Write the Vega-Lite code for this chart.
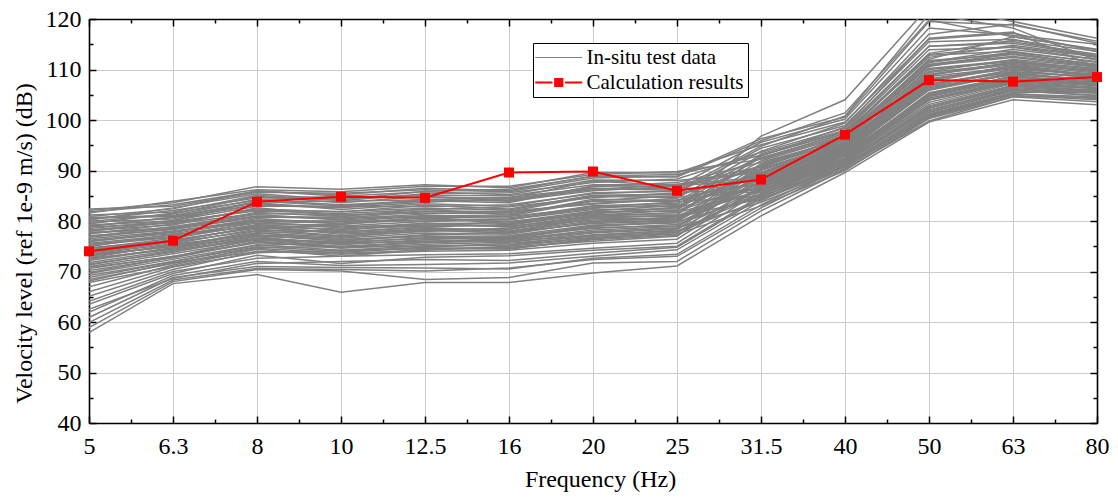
{
"$schema": "https://vega.github.io/schema/vega-lite/v6.json",
"width": 1008, "height": 404,
"autosize": "none",
"padding": {"left": 89, "top": 19, "right": 21, "bottom": 74},
"background": "white",
"config": {"font": "Liberation Serif, Times New Roman, serif", "view": {"stroke": null},
  "axis": {"labelFont": "Liberation Serif, Times New Roman, serif", "titleFont": "Liberation Serif, Times New Roman, serif", "labelFontSize": 24, "titleFontSize": 24, "labelColor": "black", "titleColor": "black", "titleFontWeight": "normal", "domainColor": "black", "domainWidth": 1.6, "tickColor": "black", "tickWidth": 1.5, "gridColor": "#cccccc", "gridWidth": 1}},
"datasets": {
"calc": [
{"f":"5","v":74.0},{"f":"6.3","v":76.1},{"f":"8","v":83.8},{"f":"10","v":84.8},{"f":"12.5","v":84.6},{"f":"16","v":89.6},{"f":"20","v":89.8},{"f":"25","v":86.0},{"f":"31.5","v":88.2},{"f":"40","v":97.1},{"f":"50","v":107.9},{"f":"63","v":107.6},{"f":"80","v":108.5}
],
"test": [
{"s":1,"f":"5","v":82.1},{"s":1,"f":"6.3","v":83.6},{"s":1,"f":"8","v":86.8},{"s":1,"f":"10","v":86.3},{"s":1,"f":"12.5","v":87.2},{"s":1,"f":"16","v":86.6},{"s":1,"f":"20","v":89.6},{"s":1,"f":"25","v":89.5},{"s":1,"f":"31.5","v":95.1},{"s":1,"f":"40","v":99.6},{"s":1,"f":"50","v":116.0},{"s":1,"f":"63","v":117.2},{"s":1,"f":"80","v":113.5},
{"s":2,"f":"5","v":81.6},{"s":2,"f":"6.3","v":83.9},{"s":2,"f":"8","v":86.2},{"s":2,"f":"10","v":85.8},{"s":2,"f":"12.5","v":86.9},{"s":2,"f":"16","v":86.9},{"s":2,"f":"20","v":89.2},{"s":2,"f":"25","v":89.8},{"s":2,"f":"31.5","v":92.2},{"s":2,"f":"40","v":97.0},{"s":2,"f":"50","v":111.5},{"s":2,"f":"63","v":114.0},{"s":2,"f":"80","v":112.0},
{"s":3,"f":"5","v":82.4},{"s":3,"f":"6.3","v":82.9},{"s":3,"f":"8","v":85.7},{"s":3,"f":"10","v":85.5},{"s":3,"f":"12.5","v":86.2},{"s":3,"f":"16","v":85.8},{"s":3,"f":"20","v":88.5},{"s":3,"f":"25","v":88.9},{"s":3,"f":"31.5","v":96.3},{"s":3,"f":"40","v":100.6},{"s":3,"f":"50","v":119.5},{"s":3,"f":"63","v":118.8},{"s":3,"f":"80","v":115.6},
{"s":4,"f":"5","v":80.9},{"s":4,"f":"6.3","v":82.4},{"s":4,"f":"8","v":86.0},{"s":4,"f":"10","v":84.9},{"s":4,"f":"12.5","v":85.8},{"s":4,"f":"16","v":85.2},{"s":4,"f":"20","v":88.1},{"s":4,"f":"25","v":88.0},{"s":4,"f":"31.5","v":89.6},{"s":4,"f":"40","v":95.0},{"s":4,"f":"50","v":108.2},{"s":4,"f":"63","v":110.5},{"s":4,"f":"80","v":108.7},
{"s":5,"f":"5","v":81.2},{"s":5,"f":"6.3","v":81.8},{"s":5,"f":"8","v":85.1},{"s":5,"f":"10","v":84.0},{"s":5,"f":"12.5","v":85.4},{"s":5,"f":"16","v":85.6},{"s":5,"f":"20","v":87.6},{"s":5,"f":"25","v":88.3},{"s":5,"f":"31.5","v":93.6},{"s":5,"f":"40","v":98.4},{"s":5,"f":"50","v":114.6},{"s":5,"f":"63","v":115.5},{"s":5,"f":"80","v":113.0},
{"s":6,"f":"5","v":80.3},{"s":6,"f":"6.3","v":82.1},{"s":6,"f":"8","v":84.6},{"s":6,"f":"10","v":84.8},{"s":6,"f":"12.5","v":84.7},{"s":6,"f":"16","v":84.5},{"s":6,"f":"20","v":87.9},{"s":6,"f":"25","v":87.0},{"s":6,"f":"31.5","v":88.2},{"s":6,"f":"40","v":93.9},{"s":6,"f":"50","v":106.1},{"s":6,"f":"63","v":109.2},{"s":6,"f":"80","v":107.8},
{"s":7,"f":"5","v":79.9},{"s":7,"f":"6.3","v":81.4},{"s":7,"f":"8","v":84.9},{"s":7,"f":"10","v":83.6},{"s":7,"f":"12.5","v":84.9},{"s":7,"f":"16","v":84.0},{"s":7,"f":"20","v":86.8},{"s":7,"f":"25","v":87.6},{"s":7,"f":"31.5","v":91.6},{"s":7,"f":"40","v":96.2},{"s":7,"f":"50","v":110.8},{"s":7,"f":"63","v":112.4},{"s":7,"f":"80","v":110.6},
{"s":8,"f":"5","v":80.6},{"s":8,"f":"6.3","v":80.9},{"s":8,"f":"8","v":83.8},{"s":8,"f":"10","v":83.9},{"s":8,"f":"12.5","v":84.2},{"s":8,"f":"16","v":84.7},{"s":8,"f":"20","v":86.5},{"s":8,"f":"25","v":86.4},{"s":8,"f":"31.5","v":87.0},{"s":8,"f":"40","v":92.8},{"s":8,"f":"50","v":104.0},{"s":8,"f":"63","v":107.9},{"s":8,"f":"80","v":106.9},
{"s":9,"f":"5","v":79.4},{"s":9,"f":"6.3","v":81.6},{"s":9,"f":"8","v":84.1},{"s":9,"f":"10","v":83.2},{"s":9,"f":"12.5","v":84.0},{"s":9,"f":"16","v":83.6},{"s":9,"f":"20","v":87.0},{"s":9,"f":"25","v":86.8},{"s":9,"f":"31.5","v":95.6},{"s":9,"f":"40","v":100.2},{"s":9,"f":"50","v":118.2},{"s":9,"f":"63","v":116.8},{"s":9,"f":"80","v":115.0},
{"s":10,"f":"5","v":79.8},{"s":10,"f":"6.3","v":80.4},{"s":10,"f":"8","v":83.3},{"s":10,"f":"10","v":82.7},{"s":10,"f":"12.5","v":84.3},{"s":10,"f":"16","v":83.9},{"s":10,"f":"20","v":86.0},{"s":10,"f":"25","v":86.9},{"s":10,"f":"31.5","v":90.2},{"s":10,"f":"40","v":95.5},{"s":10,"f":"50","v":109.0},{"s":10,"f":"63","v":111.0},{"s":10,"f":"80","v":109.8},
{"s":11,"f":"5","v":78.9},{"s":11,"f":"6.3","v":80.8},{"s":11,"f":"8","v":83.6},{"s":11,"f":"10","v":82.3},{"s":11,"f":"12.5","v":83.4},{"s":11,"f":"16","v":82.9},{"s":11,"f":"20","v":85.6},{"s":11,"f":"25","v":85.9},{"s":11,"f":"31.5","v":85.6},{"s":11,"f":"40","v":91.7},{"s":11,"f":"50","v":102.3},{"s":11,"f":"63","v":106.4},{"s":11,"f":"80","v":105.6},
{"s":12,"f":"5","v":78.5},{"s":12,"f":"6.3","v":80.1},{"s":12,"f":"8","v":82.9},{"s":12,"f":"10","v":82.9},{"s":12,"f":"12.5","v":82.8},{"s":12,"f":"16","v":83.2},{"s":12,"f":"20","v":85.4},{"s":12,"f":"25","v":86.0},{"s":12,"f":"31.5","v":92.4},{"s":12,"f":"40","v":97.3},{"s":12,"f":"50","v":112.8},{"s":12,"f":"63","v":113.6},{"s":12,"f":"80","v":111.4},
{"s":13,"f":"5","v":78.8},{"s":13,"f":"6.3","v":79.6},{"s":13,"f":"8","v":82.4},{"s":13,"f":"10","v":81.8},{"s":13,"f":"12.5","v":83.1},{"s":13,"f":"16","v":82.4},{"s":13,"f":"20","v":85.1},{"s":13,"f":"25","v":85.3},{"s":13,"f":"31.5","v":89.0},{"s":13,"f":"40","v":94.4},{"s":13,"f":"50","v":107.0},{"s":13,"f":"63","v":109.9},{"s":13,"f":"80","v":108.2},
{"s":14,"f":"5","v":77.9},{"s":14,"f":"6.3","v":79.9},{"s":14,"f":"8","v":82.0},{"s":14,"f":"10","v":81.5},{"s":14,"f":"12.5","v":82.3},{"s":14,"f":"16","v":82.8},{"s":14,"f":"20","v":84.6},{"s":14,"f":"25","v":85.6},{"s":14,"f":"31.5","v":94.4},{"s":14,"f":"40","v":98.9},{"s":14,"f":"50","v":115.5},{"s":14,"f":"63","v":116.0},{"s":14,"f":"80","v":112.3},
{"s":15,"f":"5","v":78.1},{"s":15,"f":"6.3","v":79.2},{"s":15,"f":"8","v":82.6},{"s":15,"f":"10","v":81.0},{"s":15,"f":"12.5","v":82.0},{"s":15,"f":"16","v":81.9},{"s":15,"f":"20","v":84.9},{"s":15,"f":"25","v":84.6},{"s":15,"f":"31.5","v":87.5},{"s":15,"f":"40","v":93.2},{"s":15,"f":"50","v":105.2},{"s":15,"f":"63","v":108.5},{"s":15,"f":"80","v":107.3},
{"s":16,"f":"5","v":77.4},{"s":16,"f":"6.3","v":79.4},{"s":16,"f":"8","v":81.5},{"s":16,"f":"10","v":81.3},{"s":16,"f":"12.5","v":81.6},{"s":16,"f":"16","v":81.4},{"s":16,"f":"20","v":84.0},{"s":16,"f":"25","v":85.0},{"s":16,"f":"31.5","v":90.8},{"s":16,"f":"40","v":95.9},{"s":16,"f":"50","v":110.0},{"s":16,"f":"63","v":111.6},{"s":16,"f":"80","v":110.2},
{"s":17,"f":"5","v":77.7},{"s":17,"f":"6.3","v":78.7},{"s":17,"f":"8","v":81.0},{"s":17,"f":"10","v":80.6},{"s":17,"f":"12.5","v":81.9},{"s":17,"f":"16","v":81.7},{"s":17,"f":"20","v":83.5},{"s":17,"f":"25","v":84.2},{"s":17,"f":"31.5","v":86.3},{"s":17,"f":"40","v":92.2},{"s":17,"f":"50","v":103.1},{"s":17,"f":"63","v":107.2},{"s":17,"f":"80","v":106.2},
{"s":18,"f":"5","v":76.9},{"s":18,"f":"6.3","v":78.9},{"s":18,"f":"8","v":81.3},{"s":18,"f":"10","v":80.2},{"s":18,"f":"12.5","v":81.1},{"s":18,"f":"16","v":81.0},{"s":18,"f":"20","v":83.9},{"s":18,"f":"25","v":83.9},{"s":18,"f":"31.5","v":93.0},{"s":18,"f":"40","v":97.8},{"s":18,"f":"50","v":113.9},{"s":18,"f":"63","v":114.4},{"s":18,"f":"80","v":112.0},
{"s":19,"f":"5","v":77.1},{"s":19,"f":"6.3","v":78.3},{"s":19,"f":"8","v":80.7},{"s":19,"f":"10","v":80.8},{"s":19,"f":"12.5","v":80.7},{"s":19,"f":"16","v":80.6},{"s":19,"f":"20","v":83.0},{"s":19,"f":"25","v":83.5},{"s":19,"f":"31.5","v":89.4},{"s":19,"f":"40","v":94.8},{"s":19,"f":"50","v":108.0},{"s":19,"f":"63","v":110.2},{"s":19,"f":"80","v":109.1},
{"s":20,"f":"5","v":76.5},{"s":20,"f":"6.3","v":78.0},{"s":20,"f":"8","v":80.2},{"s":20,"f":"10","v":79.9},{"s":20,"f":"12.5","v":81.0},{"s":20,"f":"16","v":80.9},{"s":20,"f":"20","v":82.6},{"s":20,"f":"25","v":83.8},{"s":20,"f":"31.5","v":84.9},{"s":20,"f":"40","v":91.2},{"s":20,"f":"50","v":101.2},{"s":20,"f":"63","v":105.5},{"s":20,"f":"80","v":105.4},
{"s":21,"f":"5","v":76.2},{"s":21,"f":"6.3","v":77.7},{"s":21,"f":"8","v":80.5},{"s":21,"f":"10","v":79.4},{"s":21,"f":"12.5","v":80.3},{"s":21,"f":"16","v":80.2},{"s":21,"f":"20","v":82.9},{"s":21,"f":"25","v":82.8},{"s":21,"f":"31.5","v":91.9},{"s":21,"f":"40","v":96.8},{"s":21,"f":"50","v":111.8},{"s":21,"f":"63","v":113.0},{"s":21,"f":"80","v":111.0},
{"s":22,"f":"5","v":75.9},{"s":22,"f":"6.3","v":77.9},{"s":22,"f":"8","v":79.9},{"s":22,"f":"10","v":79.6},{"s":22,"f":"12.5","v":80.6},{"s":22,"f":"16","v":79.8},{"s":22,"f":"20","v":82.0},{"s":22,"f":"25","v":83.1},{"s":22,"f":"31.5","v":88.1},{"s":22,"f":"40","v":93.7},{"s":22,"f":"50","v":106.6},{"s":22,"f":"63","v":109.0},{"s":22,"f":"80","v":108.0},
{"s":23,"f":"5","v":75.6},{"s":23,"f":"6.3","v":77.2},{"s":23,"f":"8","v":79.6},{"s":23,"f":"10","v":79.0},{"s":23,"f":"12.5","v":79.9},{"s":23,"f":"16","v":80.3},{"s":23,"f":"20","v":82.3},{"s":23,"f":"25","v":82.4},{"s":23,"f":"31.5","v":96.8},{"s":23,"f":"40","v":104.0},{"s":23,"f":"50","v":122.5},{"s":23,"f":"63","v":119.5},{"s":23,"f":"80","v":116.2},
{"s":24,"f":"5","v":75.2},{"s":24,"f":"6.3","v":76.8},{"s":24,"f":"8","v":79.9},{"s":24,"f":"10","v":78.6},{"s":24,"f":"12.5","v":79.5},{"s":24,"f":"16","v":79.6},{"s":24,"f":"20","v":81.6},{"s":24,"f":"25","v":82.6},{"s":24,"f":"31.5","v":86.8},{"s":24,"f":"40","v":92.5},{"s":24,"f":"50","v":104.6},{"s":24,"f":"63","v":108.0},{"s":24,"f":"80","v":106.8},
{"s":25,"f":"5","v":74.9},{"s":25,"f":"6.3","v":77.4},{"s":25,"f":"8","v":78.9},{"s":25,"f":"10","v":78.9},{"s":25,"f":"12.5","v":79.2},{"s":25,"f":"16","v":79.1},{"s":25,"f":"20","v":81.9},{"s":25,"f":"25","v":81.9},{"s":25,"f":"31.5","v":90.0},{"s":25,"f":"40","v":95.3},{"s":25,"f":"50","v":109.4},{"s":25,"f":"63","v":111.2},{"s":25,"f":"80","v":109.5},
{"s":26,"f":"5","v":74.5},{"s":26,"f":"6.3","v":76.6},{"s":26,"f":"8","v":79.3},{"s":26,"f":"10","v":78.1},{"s":26,"f":"12.5","v":79.6},{"s":26,"f":"16","v":78.8},{"s":26,"f":"20","v":80.9},{"s":26,"f":"25","v":81.7},{"s":26,"f":"31.5","v":85.9},{"s":26,"f":"40","v":91.9},{"s":26,"f":"50","v":102.6},{"s":26,"f":"63","v":106.8},{"s":26,"f":"80","v":105.9},
{"s":27,"f":"5","v":74.3},{"s":27,"f":"6.3","v":76.3},{"s":27,"f":"8","v":78.6},{"s":27,"f":"10","v":77.8},{"s":27,"f":"12.5","v":78.8},{"s":27,"f":"16","v":79.3},{"s":27,"f":"20","v":81.3},{"s":27,"f":"25","v":81.4},{"s":27,"f":"31.5","v":91.3},{"s":27,"f":"40","v":96.4},{"s":27,"f":"50","v":111.0},{"s":27,"f":"63","v":112.6},{"s":27,"f":"80","v":110.8},
{"s":28,"f":"5","v":74.0},{"s":28,"f":"6.3","v":76.0},{"s":28,"f":"8","v":78.9},{"s":28,"f":"10","v":77.6},{"s":28,"f":"12.5","v":78.4},{"s":28,"f":"16","v":78.4},{"s":28,"f":"20","v":81.0},{"s":28,"f":"25","v":81.0},{"s":28,"f":"31.5","v":87.6},{"s":28,"f":"40","v":93.0},{"s":28,"f":"50","v":105.4},{"s":28,"f":"63","v":108.6},{"s":28,"f":"80","v":107.5},
{"s":29,"f":"5","v":73.6},{"s":29,"f":"6.3","v":75.8},{"s":29,"f":"8","v":78.1},{"s":29,"f":"10","v":77.9},{"s":29,"f":"12.5","v":78.7},{"s":29,"f":"16","v":78.0},{"s":29,"f":"20","v":80.5},{"s":29,"f":"25","v":81.2},{"s":29,"f":"31.5","v":93.3},{"s":29,"f":"40","v":98.0},{"s":29,"f":"50","v":114.6},{"s":29,"f":"63","v":115.2},{"s":29,"f":"80","v":112.8},
{"s":30,"f":"5","v":73.4},{"s":30,"f":"6.3","v":75.5},{"s":30,"f":"8","v":78.4},{"s":30,"f":"10","v":77.1},{"s":30,"f":"12.5","v":77.9},{"s":30,"f":"16","v":78.6},{"s":30,"f":"20","v":80.2},{"s":30,"f":"25","v":80.6},{"s":30,"f":"31.5","v":86.2},{"s":30,"f":"40","v":92.1},{"s":30,"f":"50","v":103.5},{"s":30,"f":"63","v":107.4},{"s":30,"f":"80","v":106.4},
{"s":31,"f":"5","v":73.0},{"s":31,"f":"6.3","v":75.1},{"s":31,"f":"8","v":77.6},{"s":31,"f":"10","v":76.8},{"s":31,"f":"12.5","v":78.1},{"s":31,"f":"16","v":77.7},{"s":31,"f":"20","v":80.6},{"s":31,"f":"25","v":80.3},{"s":31,"f":"31.5","v":88.6},{"s":31,"f":"40","v":94.1},{"s":31,"f":"50","v":107.2},{"s":31,"f":"63","v":109.5},{"s":31,"f":"80","v":108.4},
{"s":32,"f":"5","v":72.7},{"s":32,"f":"6.3","v":75.4},{"s":32,"f":"8","v":77.3},{"s":32,"f":"10","v":76.6},{"s":32,"f":"12.5","v":77.6},{"s":32,"f":"16","v":77.4},{"s":32,"f":"20","v":79.8},{"s":32,"f":"25","v":80.8},{"s":32,"f":"31.5","v":84.4},{"s":32,"f":"40","v":90.9},{"s":32,"f":"50","v":100.8},{"s":32,"f":"63","v":105.2},{"s":32,"f":"80","v":104.2},
{"s":33,"f":"5","v":72.4},{"s":33,"f":"6.3","v":74.7},{"s":33,"f":"8","v":77.7},{"s":33,"f":"10","v":76.2},{"s":33,"f":"12.5","v":77.3},{"s":33,"f":"16","v":77.8},{"s":33,"f":"20","v":79.5},{"s":33,"f":"25","v":80.0},{"s":33,"f":"31.5","v":90.4},{"s":33,"f":"40","v":95.6},{"s":33,"f":"50","v":110.2},{"s":33,"f":"63","v":111.8},{"s":33,"f":"80","v":109.9},
{"s":34,"f":"5","v":72.6},{"s":34,"f":"6.3","v":74.4},{"s":34,"f":"8","v":77.0},{"s":34,"f":"10","v":76.4},{"s":34,"f":"12.5","v":76.9},{"s":34,"f":"16","v":77.1},{"s":34,"f":"20","v":79.2},{"s":34,"f":"25","v":79.6},{"s":34,"f":"31.5","v":87.2},{"s":34,"f":"40","v":92.9},{"s":34,"f":"50","v":104.3},{"s":34,"f":"63","v":107.7},{"s":34,"f":"80","v":106.9},
{"s":35,"f":"5","v":71.8},{"s":35,"f":"6.3","v":74.2},{"s":35,"f":"8","v":76.6},{"s":35,"f":"10","v":75.7},{"s":35,"f":"12.5","v":76.7},{"s":35,"f":"16","v":76.8},{"s":35,"f":"20","v":79.0},{"s":35,"f":"25","v":79.9},{"s":35,"f":"31.5","v":89.2},{"s":35,"f":"40","v":94.6},{"s":35,"f":"50","v":108.6},{"s":35,"f":"63","v":110.4},{"s":35,"f":"80","v":108.8},
{"s":36,"f":"5","v":71.5},{"s":36,"f":"6.3","v":73.8},{"s":36,"f":"8","v":76.9},{"s":36,"f":"10","v":75.3},{"s":36,"f":"12.5","v":76.3},{"s":36,"f":"16","v":77.0},{"s":36,"f":"20","v":78.5},{"s":36,"f":"25","v":79.3},{"s":36,"f":"31.5","v":85.4},{"s":36,"f":"40","v":91.4},{"s":36,"f":"50","v":101.9},{"s":36,"f":"63","v":106.2},{"s":36,"f":"80","v":105.3},
{"s":37,"f":"5","v":71.0},{"s":37,"f":"6.3","v":73.5},{"s":37,"f":"8","v":76.2},{"s":37,"f":"10","v":75.6},{"s":37,"f":"12.5","v":76.0},{"s":37,"f":"16","v":76.5},{"s":37,"f":"20","v":78.7},{"s":37,"f":"25","v":79.0},{"s":37,"f":"31.5","v":87.9},{"s":37,"f":"40","v":93.5},{"s":37,"f":"50","v":106.0},{"s":37,"f":"63","v":109.4},{"s":37,"f":"80","v":107.6},
{"s":38,"f":"5","v":70.6},{"s":38,"f":"6.3","v":73.0},{"s":38,"f":"8","v":75.7},{"s":38,"f":"10","v":74.9},{"s":38,"f":"12.5","v":75.7},{"s":38,"f":"16","v":76.1},{"s":38,"f":"20","v":77.9},{"s":38,"f":"25","v":78.6},{"s":38,"f":"31.5","v":83.7},{"s":38,"f":"40","v":90.3},{"s":38,"f":"50","v":99.8},{"s":38,"f":"63","v":104.6},{"s":38,"f":"80","v":103.6},
{"s":39,"f":"5","v":70.2},{"s":39,"f":"6.3","v":72.7},{"s":39,"f":"8","v":75.9},{"s":39,"f":"10","v":74.6},{"s":39,"f":"12.5","v":75.4},{"s":39,"f":"16","v":75.8},{"s":39,"f":"20","v":77.6},{"s":39,"f":"25","v":78.4},{"s":39,"f":"31.5","v":86.6},{"s":39,"f":"40","v":92.3},{"s":39,"f":"50","v":103.9},{"s":39,"f":"63","v":107.6},{"s":39,"f":"80","v":106.5},
{"s":40,"f":"5","v":69.6},{"s":40,"f":"6.3","v":72.4},{"s":40,"f":"8","v":75.3},{"s":40,"f":"10","v":74.2},{"s":40,"f":"12.5","v":75.1},{"s":40,"f":"16","v":75.3},{"s":40,"f":"20","v":77.3},{"s":40,"f":"25","v":78.0},{"s":40,"f":"31.5","v":85.3},{"s":40,"f":"40","v":91.5},{"s":40,"f":"50","v":102.4},{"s":40,"f":"63","v":106.6},{"s":40,"f":"80","v":105.8},
{"s":41,"f":"5","v":57.9},{"s":41,"f":"6.3","v":67.6},{"s":41,"f":"8","v":69.4},{"s":41,"f":"10","v":65.9},{"s":41,"f":"12.5","v":67.8},{"s":41,"f":"16","v":67.8},{"s":41,"f":"20","v":69.7},{"s":41,"f":"25","v":71.1},{"s":41,"f":"31.5","v":81.0},{"s":41,"f":"40","v":89.6},{"s":41,"f":"50","v":99.6},{"s":41,"f":"63","v":104.0},{"s":41,"f":"80","v":103.0},
{"s":42,"f":"5","v":58.9},{"s":42,"f":"6.3","v":68.0},{"s":42,"f":"8","v":70.4},{"s":42,"f":"10","v":70.1},{"s":42,"f":"12.5","v":68.4},{"s":42,"f":"16","v":68.8},{"s":42,"f":"20","v":71.7},{"s":42,"f":"25","v":72.0},{"s":42,"f":"31.5","v":82.0},{"s":42,"f":"40","v":90.2},{"s":42,"f":"50","v":100.3},{"s":42,"f":"63","v":104.6},{"s":42,"f":"80","v":104.5},
{"s":43,"f":"5","v":59.9},{"s":43,"f":"6.3","v":68.3},{"s":43,"f":"8","v":70.6},{"s":43,"f":"10","v":70.4},{"s":43,"f":"12.5","v":70.1},{"s":43,"f":"16","v":70.7},{"s":43,"f":"20","v":72.4},{"s":43,"f":"25","v":73.0},{"s":43,"f":"31.5","v":82.6},{"s":43,"f":"40","v":90.8},{"s":43,"f":"50","v":101.0},{"s":43,"f":"63","v":105.3},{"s":43,"f":"80","v":106.0},
{"s":44,"f":"5","v":60.9},{"s":44,"f":"6.3","v":68.8},{"s":44,"f":"8","v":71.0},{"s":44,"f":"10","v":70.8},{"s":44,"f":"12.5","v":70.7},{"s":44,"f":"16","v":70.5},{"s":44,"f":"20","v":72.6},{"s":44,"f":"25","v":73.4},{"s":44,"f":"31.5","v":83.2},{"s":44,"f":"40","v":91.0},{"s":44,"f":"50","v":101.6},{"s":44,"f":"63","v":105.9},{"s":44,"f":"80","v":104.8},
{"s":45,"f":"5","v":61.9},{"s":45,"f":"6.3","v":69.2},{"s":45,"f":"8","v":72.0},{"s":45,"f":"10","v":71.2},{"s":45,"f":"12.5","v":71.4},{"s":45,"f":"16","v":71.7},{"s":45,"f":"20","v":73.0},{"s":45,"f":"25","v":74.3},{"s":45,"f":"31.5","v":84.0},{"s":45,"f":"40","v":91.8},{"s":45,"f":"50","v":102.8},{"s":45,"f":"63","v":106.9},{"s":45,"f":"80","v":106.3},
{"s":46,"f":"5","v":62.5},{"s":46,"f":"6.3","v":68.6},{"s":46,"f":"8","v":71.6},{"s":46,"f":"10","v":72.0},{"s":46,"f":"12.5","v":72.4},{"s":46,"f":"16","v":72.2},{"s":46,"f":"20","v":73.6},{"s":46,"f":"25","v":74.8},{"s":46,"f":"31.5","v":84.6},{"s":46,"f":"40","v":92.4},{"s":46,"f":"50","v":104.0},{"s":46,"f":"63","v":107.3},{"s":46,"f":"80","v":105.4},
{"s":47,"f":"5","v":63.5},{"s":47,"f":"6.3","v":69.6},{"s":47,"f":"8","v":73.2},{"s":47,"f":"10","v":71.6},{"s":47,"f":"12.5","v":72.8},{"s":47,"f":"16","v":73.1},{"s":47,"f":"20","v":74.2},{"s":47,"f":"25","v":75.0},{"s":47,"f":"31.5","v":85.0},{"s":47,"f":"40","v":93.0},{"s":47,"f":"50","v":105.0},{"s":47,"f":"63","v":108.2},{"s":47,"f":"80","v":107.0},
{"s":48,"f":"5","v":64.1},{"s":48,"f":"6.3","v":70.0},{"s":48,"f":"8","v":72.6},{"s":48,"f":"10","v":73.0},{"s":48,"f":"12.5","v":73.3},{"s":48,"f":"16","v":73.5},{"s":48,"f":"20","v":74.6},{"s":48,"f":"25","v":75.6},{"s":48,"f":"31.5","v":86.0},{"s":48,"f":"40","v":93.7},{"s":48,"f":"50","v":106.4},{"s":48,"f":"63","v":109.0},{"s":48,"f":"80","v":107.8},
{"s":49,"f":"5","v":65.1},{"s":49,"f":"6.3","v":70.4},{"s":49,"f":"8","v":74.0},{"s":49,"f":"10","v":73.4},{"s":49,"f":"12.5","v":74.0},{"s":49,"f":"16","v":74.2},{"s":49,"f":"20","v":75.6},{"s":49,"f":"25","v":76.4},{"s":49,"f":"31.5","v":87.0},{"s":49,"f":"40","v":94.2},{"s":49,"f":"50","v":107.5},{"s":49,"f":"63","v":110.6},{"s":49,"f":"80","v":108.5},
{"s":50,"f":"5","v":66.0},{"s":50,"f":"6.3","v":70.9},{"s":50,"f":"8","v":73.7},{"s":50,"f":"10","v":74.2},{"s":50,"f":"12.5","v":74.5},{"s":50,"f":"16","v":74.8},{"s":50,"f":"20","v":76.0},{"s":50,"f":"25","v":77.0},{"s":50,"f":"31.5","v":88.0},{"s":50,"f":"40","v":95.0},{"s":50,"f":"50","v":109.0},{"s":50,"f":"63","v":111.4},{"s":50,"f":"80","v":110.2},
{"s":51,"f":"5","v":67.0},{"s":51,"f":"6.3","v":71.3},{"s":51,"f":"8","v":74.8},{"s":51,"f":"10","v":74.9},{"s":51,"f":"12.5","v":75.0},{"s":51,"f":"16","v":75.2},{"s":51,"f":"20","v":76.8},{"s":51,"f":"25","v":77.5},{"s":51,"f":"31.5","v":89.5},{"s":51,"f":"40","v":96.0},{"s":51,"f":"50","v":111.0},{"s":51,"f":"63","v":113.0},{"s":51,"f":"80","v":111.0},
{"s":52,"f":"5","v":67.8},{"s":52,"f":"6.3","v":71.0},{"s":52,"f":"8","v":74.4},{"s":52,"f":"10","v":73.0},{"s":52,"f":"12.5","v":74.4},{"s":52,"f":"16","v":74.6},{"s":52,"f":"20","v":76.3},{"s":52,"f":"25","v":77.2},{"s":52,"f":"31.5","v":86.5},{"s":52,"f":"40","v":94.0},{"s":52,"f":"50","v":106.8},{"s":52,"f":"63","v":110.0},{"s":52,"f":"80","v":109.0},
{"s":53,"f":"5","v":68.8},{"s":53,"f":"6.3","v":72.0},{"s":53,"f":"8","v":75.2},{"s":53,"f":"10","v":75.6},{"s":53,"f":"12.5","v":76.0},{"s":53,"f":"16","v":76.0},{"s":53,"f":"20","v":77.2},{"s":53,"f":"25","v":78.2},{"s":53,"f":"31.5","v":90.5},{"s":53,"f":"40","v":97.0},{"s":53,"f":"50","v":113.0},{"s":53,"f":"63","v":114.5},{"s":53,"f":"80","v":112.5},
{"s":54,"f":"5","v":69.8},{"s":54,"f":"6.3","v":72.8},{"s":54,"f":"8","v":76.0},{"s":54,"f":"10","v":75.0},{"s":54,"f":"12.5","v":75.8},{"s":54,"f":"16","v":76.4},{"s":54,"f":"20","v":77.8},{"s":54,"f":"25","v":78.6},{"s":54,"f":"31.5","v":91.0},{"s":54,"f":"40","v":96.6},{"s":54,"f":"50","v":112.0},{"s":54,"f":"63","v":116.5},{"s":54,"f":"80","v":114.0},
{"s":55,"f":"5","v":79.0},{"s":55,"f":"6.3","v":80.7},{"s":55,"f":"8","v":83.1},{"s":55,"f":"10","v":82.6},{"s":55,"f":"12.5","v":83.7},{"s":55,"f":"16","v":84.4},{"s":55,"f":"20","v":86.4},{"s":55,"f":"25","v":86.1},{"s":55,"f":"31.5","v":94.8},{"s":55,"f":"40","v":100.8},{"s":55,"f":"50","v":121.0},{"s":55,"f":"63","v":118.2},{"s":55,"f":"80","v":111.8},
{"s":56,"f":"5","v":76.8},{"s":56,"f":"6.3","v":78.4},{"s":56,"f":"8","v":80.9},{"s":56,"f":"10","v":80.4},{"s":56,"f":"12.5","v":81.4},{"s":56,"f":"16","v":82.0},{"s":56,"f":"20","v":83.3},{"s":56,"f":"25","v":84.5},{"s":56,"f":"31.5","v":93.8},{"s":56,"f":"40","v":99.4},{"s":56,"f":"50","v":117.0},{"s":56,"f":"63","v":119.0},{"s":56,"f":"80","v":115.2},
{"s":57,"f":"5","v":73.2},{"s":57,"f":"6.3","v":75.0},{"s":57,"f":"8","v":77.5},{"s":57,"f":"10","v":78.3},{"s":57,"f":"12.5","v":79.2},{"s":57,"f":"16","v":78.9},{"s":57,"f":"20","v":81.1},{"s":57,"f":"25","v":82.2},{"s":57,"f":"31.5","v":92.8},{"s":57,"f":"40","v":98.6},{"s":57,"f":"50","v":116.2},{"s":57,"f":"63","v":117.4},{"s":57,"f":"80","v":110.4},
{"s":58,"f":"5","v":80.2},{"s":58,"f":"6.3","v":82.6},{"s":58,"f":"8","v":85.4},{"s":58,"f":"10","v":84.2},{"s":58,"f":"12.5","v":85.9},{"s":58,"f":"16","v":86.3},{"s":58,"f":"20","v":88.8},{"s":58,"f":"25","v":88.7},{"s":58,"f":"31.5","v":95.9},{"s":58,"f":"40","v":101.4},{"s":58,"f":"50","v":119.8},{"s":58,"f":"63","v":116.5},{"s":58,"f":"80","v":113.9},
{"s":59,"f":"5","v":81.8},{"s":59,"f":"6.3","v":83.2},{"s":59,"f":"8","v":85.9},{"s":59,"f":"10","v":85.2},{"s":59,"f":"12.5","v":86.5},{"s":59,"f":"16","v":86.0},{"s":59,"f":"20","v":88.9},{"s":59,"f":"25","v":89.2},{"s":59,"f":"31.5","v":93.0},{"s":59,"f":"40","v":97.6},{"s":59,"f":"50","v":112.4},{"s":59,"f":"63","v":114.8},{"s":59,"f":"80","v":112.6},
{"s":60,"f":"5","v":80.7},{"s":60,"f":"6.3","v":81.1},{"s":60,"f":"8","v":84.3},{"s":60,"f":"10","v":84.5},{"s":60,"f":"12.5","v":85.1},{"s":60,"f":"16","v":85.0},{"s":60,"f":"20","v":87.2},{"s":60,"f":"25","v":87.2},{"s":60,"f":"31.5","v":90.8},{"s":60,"f":"40","v":96.0},{"s":60,"f":"50","v":109.6},{"s":60,"f":"63","v":112.0},{"s":60,"f":"80","v":110.5},
{"s":61,"f":"5","v":79.2},{"s":61,"f":"6.3","v":80.0},{"s":61,"f":"8","v":83.9},{"s":61,"f":"10","v":83.0},{"s":61,"f":"12.5","v":83.9},{"s":61,"f":"16","v":84.2},{"s":61,"f":"20","v":86.2},{"s":61,"f":"25","v":87.3},{"s":61,"f":"31.5","v":88.6},{"s":61,"f":"40","v":94.2},{"s":61,"f":"50","v":106.8},{"s":61,"f":"63","v":109.6},{"s":61,"f":"80","v":108.6},
{"s":62,"f":"5","v":78.2},{"s":62,"f":"6.3","v":79.7},{"s":62,"f":"8","v":82.2},{"s":62,"f":"10","v":81.9},{"s":62,"f":"12.5","v":82.5},{"s":62,"f":"16","v":82.2},{"s":62,"f":"20","v":85.0},{"s":62,"f":"25","v":84.9},{"s":62,"f":"31.5","v":91.0},{"s":62,"f":"40","v":96.6},{"s":62,"f":"50","v":111.4},{"s":62,"f":"63","v":113.4},{"s":62,"f":"80","v":111.6},
{"s":63,"f":"5","v":77.6},{"s":63,"f":"6.3","v":78.5},{"s":63,"f":"8","v":81.7},{"s":63,"f":"10","v":80.9},{"s":63,"f":"12.5","v":82.4},{"s":63,"f":"16","v":81.2},{"s":63,"f":"20","v":84.3},{"s":63,"f":"25","v":84.0},{"s":63,"f":"31.5","v":88.8},{"s":63,"f":"40","v":94.0},{"s":63,"f":"50","v":107.8},{"s":63,"f":"63","v":110.8},{"s":63,"f":"80","v":109.3},
{"s":64,"f":"5","v":76.0},{"s":64,"f":"6.3","v":77.5},{"s":64,"f":"8","v":80.0},{"s":64,"f":"10","v":80.0},{"s":64,"f":"12.5","v":80.0},{"s":64,"f":"16","v":80.4},{"s":64,"f":"20","v":82.5},{"s":64,"f":"25","v":83.3},{"s":64,"f":"31.5","v":92.5},{"s":64,"f":"40","v":97.4},{"s":64,"f":"50","v":113.2},{"s":64,"f":"63","v":115.8},{"s":64,"f":"80","v":113.6},
{"s":65,"f":"5","v":75.4},{"s":65,"f":"6.3","v":76.9},{"s":65,"f":"8","v":79.2},{"s":65,"f":"10","v":79.3},{"s":65,"f":"12.5","v":80.8},{"s":65,"f":"16","v":79.4},{"s":65,"f":"20","v":81.8},{"s":65,"f":"25","v":82.0},{"s":65,"f":"31.5","v":87.3},{"s":65,"f":"40","v":93.4},{"s":65,"f":"50","v":104.9},{"s":65,"f":"63","v":108.2},{"s":65,"f":"80","v":107.1},
{"s":66,"f":"5","v":74.7},{"s":66,"f":"6.3","v":76.1},{"s":66,"f":"8","v":78.8},{"s":66,"f":"10","v":78.4},{"s":66,"f":"12.5","v":79.0},{"s":66,"f":"16","v":79.9},{"s":66,"f":"20","v":81.4},{"s":66,"f":"25","v":82.7},{"s":66,"f":"31.5","v":89.6},{"s":66,"f":"40","v":95.1},{"s":66,"f":"50","v":108.8},{"s":66,"f":"63","v":111.5},{"s":66,"f":"80","v":109.6},
{"s":67,"f":"5","v":73.8},{"s":67,"f":"6.3","v":75.9},{"s":67,"f":"8","v":79.0},{"s":67,"f":"10","v":77.4},{"s":67,"f":"12.5","v":78.2},{"s":67,"f":"16","v":78.3},{"s":67,"f":"20","v":80.8},{"s":67,"f":"25","v":80.9},{"s":67,"f":"31.5","v":86.0},{"s":67,"f":"40","v":91.6},{"s":67,"f":"50","v":102.0},{"s":67,"f":"63","v":106.0},{"s":67,"f":"80","v":105.6},
{"s":68,"f":"5","v":73.3},{"s":68,"f":"6.3","v":74.9},{"s":68,"f":"8","v":78.0},{"s":68,"f":"10","v":77.0},{"s":68,"f":"12.5","v":78.5},{"s":68,"f":"16","v":77.9},{"s":68,"f":"20","v":80.0},{"s":68,"f":"25","v":80.4},{"s":68,"f":"31.5","v":90.9},{"s":68,"f":"40","v":96.0},{"s":68,"f":"50","v":110.6},{"s":68,"f":"63","v":113.3},{"s":68,"f":"80","v":110.9},
{"s":69,"f":"5","v":72.2},{"s":69,"f":"6.3","v":74.6},{"s":69,"f":"8","v":77.2},{"s":69,"f":"10","v":76.0},{"s":69,"f":"12.5","v":77.2},{"s":69,"f":"16","v":77.6},{"s":69,"f":"20","v":79.7},{"s":69,"f":"25","v":80.2},{"s":69,"f":"31.5","v":87.7},{"s":69,"f":"40","v":93.6},{"s":69,"f":"50","v":105.9},{"s":69,"f":"63","v":109.1},{"s":69,"f":"80","v":107.9},
{"s":70,"f":"5","v":71.3},{"s":70,"f":"6.3","v":74.0},{"s":70,"f":"8","v":76.4},{"s":70,"f":"10","v":75.9},{"s":70,"f":"12.5","v":76.5},{"s":70,"f":"16","v":76.6},{"s":70,"f":"20","v":78.9},{"s":70,"f":"25","v":79.8},{"s":70,"f":"31.5","v":84.8},{"s":70,"f":"40","v":91.0},{"s":70,"f":"50","v":101.5},{"s":70,"f":"63","v":105.8},{"s":70,"f":"80","v":104.9},
{"s":71,"f":"5","v":70.8},{"s":71,"f":"6.3","v":72.9},{"s":71,"f":"8","v":76.5},{"s":71,"f":"10","v":74.8},{"s":71,"f":"12.5","v":75.9},{"s":71,"f":"16","v":76.3},{"s":71,"f":"20","v":78.2},{"s":71,"f":"25","v":78.9},{"s":71,"f":"31.5","v":88.4},{"s":71,"f":"40","v":94.5},{"s":71,"f":"50","v":107.9},{"s":71,"f":"63","v":110.8},{"s":71,"f":"80","v":108.7},
{"s":72,"f":"5","v":69.2},{"s":72,"f":"6.3","v":72.0},{"s":72,"f":"8","v":74.9},{"s":72,"f":"10","v":74.0},{"s":72,"f":"12.5","v":74.8},{"s":72,"f":"16","v":75.6},{"s":72,"f":"20","v":77.0},{"s":72,"f":"25","v":77.8},{"s":72,"f":"31.5","v":84.2},{"s":72,"f":"40","v":90.6},{"s":72,"f":"50","v":100.6},{"s":72,"f":"63","v":105.1},{"s":72,"f":"80","v":104.6},
{"s":73,"f":"5","v":68.4},{"s":73,"f":"6.3","v":71.6},{"s":73,"f":"8","v":74.6},{"s":73,"f":"10","v":73.6},{"s":73,"f":"12.5","v":74.2},{"s":73,"f":"16","v":75.0},{"s":73,"f":"20","v":76.6},{"s":73,"f":"25","v":77.7},{"s":73,"f":"31.5","v":86.2},{"s":73,"f":"40","v":92.9},{"s":73,"f":"50","v":104.7},{"s":73,"f":"63","v":108.8},{"s":73,"f":"80","v":107.2},
{"s":74,"f":"5","v":68.1},{"s":74,"f":"6.3","v":71.8},{"s":74,"f":"8","v":73.9},{"s":74,"f":"10","v":73.8},{"s":74,"f":"12.5","v":74.7},{"s":74,"f":"16","v":74.4},{"s":74,"f":"20","v":76.5},{"s":74,"f":"25","v":77.4},{"s":74,"f":"31.5","v":83.0},{"s":74,"f":"40","v":90.0},{"s":74,"f":"50","v":100.5},{"s":74,"f":"63","v":104.9},{"s":74,"f":"80","v":104.0}
]
},
"layer": [
{
 "data": {"name": "test"},
 "mark": {"type": "line", "clip": true, "strokeWidth": 1.5},
 "encoding": {
  "x": {"field": "f", "type": "ordinal",
   "scale": {"type": "point", "padding": 0, "domain": ["5","a1","6.3","a2","8","a3","10","a4","12.5","a5","16","a6","20","a7","25","a8","31.5","a9","40","a10","50","a11","63","a12","80"]},
   "axis": {"orient": "bottom", "title": "Frequency (Hz)", "labelAngle": 0, "labelPadding": 18,
    "values": ["5","a1","6.3","a2","8","a3","10","a4","12.5","a5","16","a6","20","a7","25","a8","31.5","a9","40","a10","50","a11","63","a12","80"],
    "labelExpr": "indexof(datum.value, 'a') === 0 ? '' : datum.value",
    "tickSize": {"condition": {"test": "indexof(datum.value, 'a') === 0", "value": -4}, "value": -7},
    "grid": true,
    "gridColor": {"condition": {"test": "indexof(datum.value, 'a') === 0", "value": "transparent"}, "value": "#cccccc"},
    "titleX": 511, "titleY": 63, "titleBaseline": "alphabetic", "titleAlign": "center"}},
  "y": {"field": "v", "type": "quantitative",
   "scale": {"domain": [40, 120], "nice": false, "zero": false},
   "axis": {"orient": "left", "title": "Velocity level (ref 1e-9 m/s) (dB)", "labelPadding": 15,
    "values": [40,45,50,55,60,65,70,75,80,85,90,95,100,105,110,115,120],
    "labelExpr": "datum.value % 10 === 0 ? datum.label : ''",
    "tickSize": {"condition": {"test": "datum.value % 10 !== 0", "value": -4}, "value": -7},
    "grid": true,
    "gridColor": {"condition": {"test": "datum.value % 10 !== 0", "value": "transparent"}, "value": "#cccccc"},
    "titleX": -58, "titleY": 224, "titleBaseline": "alphabetic", "titleAlign": "center", "titleAngle": -90}},
  "detail": {"field": "s"},
  "order": {"value": null},
  "color": {"datum": "In-situ test data",
   "scale": {"domain": ["In-situ test data", "Calculation results"], "range": ["#808080", "#ff0000"]},
   "legend": {"title": null, "orient": "none", "legendX": 444, "legendY": 24,
    "strokeColor": "black", "fillColor": "white", "padding": 4,
    "labelFont": "Liberation Serif, Times New Roman, serif", "labelFontSize": 21, "labelColor": "black", "labelOffset": 28.5, "labelLimit": 400,
    "symbolSize": 2025, "rowPadding": 3,
    "encode": {"symbols": {"update": {
      "shape": {"signal": "datum.value === 'Calculation results' ? 'M-0.544,0H0.22M0.78,0H1.544M0.34,-0.16H0.66V0.16H0.34Z' : 'M-0.544,0H1.544'"},
      "fill": {"signal": "datum.value === 'Calculation results' ? '#ff0000' : 'transparent'"},
      "stroke": {"signal": "datum.value === 'Calculation results' ? '#ff0000' : '#808080'"},
      "strokeWidth": {"signal": "datum.value === 'Calculation results' ? 2 : 1"},
      "opacity": {"value": 1}}}}}}
 }
},
{
 "data": {"name": "calc"},
 "mark": {"type": "line", "strokeWidth": 2},
 "encoding": {
  "x": {"field": "f", "type": "ordinal",
   "axis": {"orient": "top", "title": null, "labels": false, "grid": false,
    "values": ["5","a1","6.3","a2","8","a3","10","a4","12.5","a5","16","a6","20","a7","25","a8","31.5","a9","40","a10","50","a11","63","a12","80"],
    "tickSize": {"condition": {"test": "indexof(datum.value, 'a') === 0", "value": -4}, "value": -7}}},
  "y": {"field": "v", "type": "quantitative",
   "axis": {"orient": "right", "title": null, "labels": false, "grid": false,
    "values": [40,45,50,55,60,65,70,75,80,85,90,95,100,105,110,115,120],
    "tickSize": {"condition": {"test": "datum.value % 10 !== 0", "value": -4}, "value": -7}}},
  "order": {"value": null},
  "color": {"datum": "Calculation results"}
 }
},
{
 "data": {"name": "calc"},
 "mark": {"type": "point", "shape": "square", "filled": true, "size": 100, "opacity": 1},
 "encoding": {
  "x": {"field": "f", "type": "ordinal", "axis": null},
  "y": {"field": "v", "type": "quantitative", "axis": null},
  "color": {"datum": "Calculation results"}
 }
}
],
"resolve": {"axis": {"x": "independent", "y": "independent"}}
}
